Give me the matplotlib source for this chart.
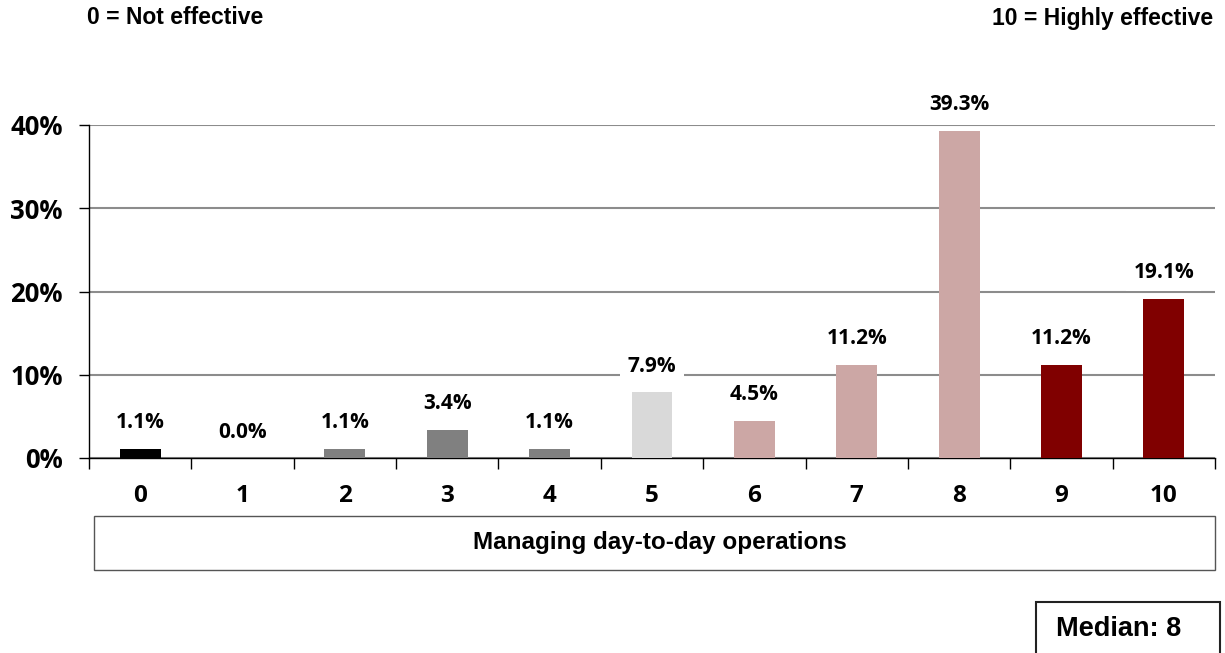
import matplotlib.pyplot as plt
from matplotlib.patches import Rectangle

scores = ["0", "1", "2", "3", "4", "5", "6", "7", "8", "9", "10"]
shares = [1.1, 0.0, 1.1, 3.4, 1.1, 7.9, 4.5, 11.2, 39.3, 11.2, 19.1]
colors = ["#000000", "#808080", "#808080", "#808080", "#808080", "#d9d9d9",
          "#cca7a5", "#cca7a5", "#cca7a5", "#800000", "#800000"]
ytick_vals = [0, 10, 20, 30, 40]
category = "Managing day-to-day operations"
left_note = "0 = Not effective"
right_note = "10 = Highly effective"
median_text = "Median: 8"

calib = ["Open Sans", "DejaVu Sans"]
arial = ["Liberation Sans", "DejaVu Sans"]

fig = plt.figure(figsize=(12.25, 6.53), dpi=100)
ax = fig.add_axes([89 / 1225, 1 - 458 / 653, 1126 / 1225, 333 / 653])

x = range(len(scores))
ax.bar(x, shares, width=0.4, color=colors, zorder=3)
ax.set_xlim(-0.5, len(scores) - 0.5)
ax.set_ylim(0, 40)

for i, v in enumerate(shares):
    ax.annotate(f"{v:.1f}%", (i, v), xytext=(0, 26), textcoords="offset pixels",
                ha="center", va="center", fontsize=15, fontweight="bold",
                family=calib, zorder=4, annotation_clip=False,
                bbox=dict(boxstyle="square,pad=0.35", fc="white", ec="none"))

ax.set_yticks(ytick_vals)
ax.set_yticklabels([f"{v}%" for v in ytick_vals], fontsize=18.5, fontweight="bold", family=calib)
ax.yaxis.grid(True, color="#8c8c8c", linewidth=1.5, zorder=0)
ax.tick_params(axis="y", length=7, width=1, direction="out", pad=12)

ax.set_xticks([i - 0.5 for i in range(len(scores) + 1)], minor=True)
ax.set_xticks(list(x))
ax.set_xticklabels(scores, fontsize=17.5, fontweight="bold", family=calib)
ax.tick_params(axis="x", which="major", length=0, pad=19)
ax.tick_params(axis="x", which="minor", length=8, width=1, direction="out")

for s in ["top", "right"]:
    ax.spines[s].set_visible(False)
ax.spines["left"].set_linewidth(1)
ax.spines["bottom"].set_linewidth(1)

fig.patches.append(Rectangle((94 / 1225, 1 - 570 / 653), 1121 / 1225, 54 / 653,
                             transform=fig.transFigure, fill=False, ec="#555555", lw=1))
fig.text(660 / 1225, 1 - 543 / 653, category, ha="center", va="center",
         fontsize=17.5, fontweight="bold", family=arial)

fig.text(87 / 1225, 1 - 18 / 653, left_note, ha="left", va="center",
         fontsize=16.5, fontweight="bold", family=arial)
fig.text(1213 / 1225, 1 - 18 / 653, right_note, ha="right", va="center",
         fontsize=16.5, fontweight="bold", family=arial)

fig.patches.append(Rectangle((1036 / 1225, 1 - 660 / 653), 184 / 1225, 58 / 653,
                             transform=fig.transFigure, fill=False, ec="#222222", lw=1.5))
fig.text(1119 / 1225, 1 - 629 / 653, median_text, ha="center", va="center",
         fontsize=19.5, fontweight="bold", family=arial)

fig.savefig("out.png", dpi=100)
